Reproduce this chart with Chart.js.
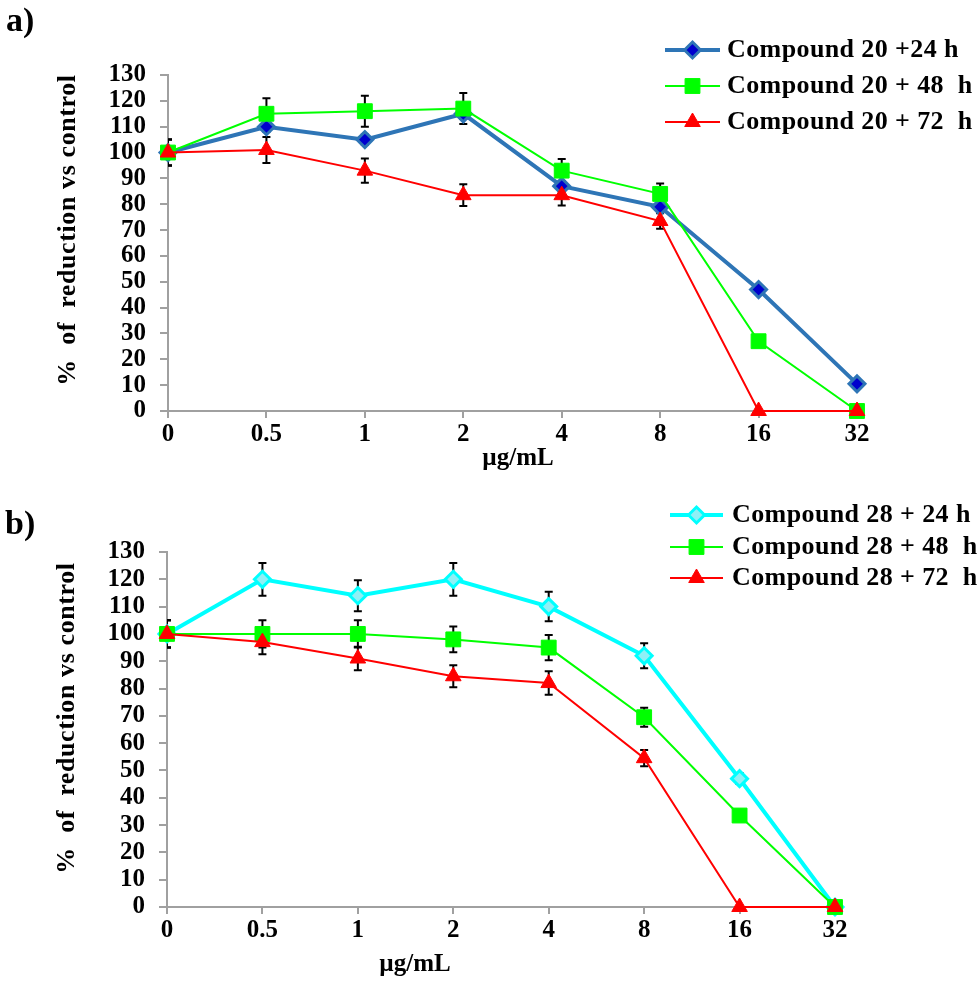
<!DOCTYPE html>
<html lang="en">
<head>
<meta charset="UTF-8">
<title>Compound 20 / 28 - % of reduction vs control</title>
<script src="https://cdn.jsdelivr.net/npm/chart.js"></script>
<style>
  body { margin: 0; background: #fff; }
  canvas { position: absolute; left: 0; }
  #chartA { top: 0; }
  #chartB { top: 480px; }
</style>
</head>
<body>
<canvas id="chartA" width="980" height="480"></canvas>
<canvas id="chartB" width="980" height="503"></canvas>
<script>
// doses on the x axis
const doses = ['0', '0.5', '1', '2', '4', '8', '16', '32'];
const xTitle = 'µg/mL';
const yTitle = '%  of  reduction vs control';

// panel a) compound 20
const c20Labels = ['Compound 20 +24 h', 'Compound 20 + 48  h', 'Compound 20 + 72  h'];
const c20_24h = [100, 110, 105, 115, 87, 79, 47, 10.5];
const c20_24hErr = [5, 2, 2, 2, 2, 2, 1, 1];
const c20_48h = [100, 115, 116, 117, 93, 84, 27, 0];
const c20_48hErr = [5, 6, 6, 6, 4.5, 4, 0, 0];
const c20_72h = [100, 101, 93, 83.5, 83.5, 73.5, 0, 0];
const c20_72hErr = [5, 5, 4.7, 4.2, 4, 3, 0, 0];

// panel b) compound 28
const c28Labels = ['Compound 28 + 24 h', 'Compound 28 + 48  h', 'Compound 28 + 72  h'];
const c28_24h = [100, 120, 114, 120, 110, 92, 47, 0];
const c28_24hErr = [5, 6, 5.7, 6, 5.4, 4.6, 2, 0];
const c28_48h = [100, 100, 100, 98, 95, 69.5, 33.5, 0];
const c28_48hErr = [5, 5, 5, 4.7, 4.6, 3.5, 0, 0];
const c28_72h = [100, 97, 91, 84.5, 82, 54.5, 0, 0];
const c28_72hErr = [5, 4.4, 4.3, 4, 4.3, 3, 0, 0];

const serif = "'Liberation Serif', 'Times New Roman', serif";
const axisGrey = '#a0a0a0';

// black error bars, drawn under the series
const errorBars = {
  id: 'errorBars',
  beforeDatasetsDraw(chart) {
    const { ctx, chartArea, scales: { y } } = chart;
    ctx.save();
    ctx.beginPath();
    ctx.rect(chartArea.left, 0, chart.width - chartArea.left, chart.height);
    ctx.clip();
    ctx.strokeStyle = '#000';
    ctx.lineWidth = 2;
    chart.data.datasets.forEach((ds, i) => {
      const meta = chart.getDatasetMeta(i);
      ds.data.forEach((v, j) => {
        const e = ds.errors[j];
        if (!e) return;
        const x = meta.data[j].x;
        const top = y.getPixelForValue(v + e);
        const bot = y.getPixelForValue(v - e);
        ctx.beginPath();
        ctx.moveTo(x, top); ctx.lineTo(x, bot);
        ctx.moveTo(x - 4, top); ctx.lineTo(x + 4, top);
        ctx.moveTo(x - 4, bot); ctx.lineTo(x + 4, bot);
        ctx.stroke();
      });
    });
    ctx.restore();
  }
};

// legend sitting on the top right, over the plot edge
function makeLegend(pos) {
  return {
    id: 'sideLegend',
    afterDraw(chart) {
      const ctx = chart.ctx;
      ctx.save();
      chart.data.datasets.forEach((ds, i) => {
        const y = pos.rows[i];
        ctx.strokeStyle = ds.borderColor;
        ctx.lineWidth = ds.borderWidth;
        ctx.beginPath();
        ctx.moveTo(pos.x1, y);
        ctx.lineTo(pos.x2, y);
        ctx.stroke();
        ctx.fillStyle = ds.pointBackgroundColor;
        ctx.strokeStyle = ds.pointBorderColor;
        ctx.lineWidth = ds.pointBorderWidth;
        Chart.helpers.drawPoint(ctx, {
          pointStyle: ds.pointStyle, radius: ds.pointRadius,
          borderWidth: ds.pointBorderWidth, rotation: 0
        }, (pos.x1 + pos.x2) / 2, y);
        ctx.fillStyle = '#000';
        ctx.font = 'bold 26px ' + serif;
        ctx.letterSpacing = '0.4px';
        ctx.textAlign = 'left';
        ctx.textBaseline = 'middle';
        ctx.fillText(ds.label, pos.textX, y);
      });
      ctx.restore();
    }
  };
}

// panel letter and axis titles
function makeTexts(t) {
  return {
    id: 'panelTexts',
    afterDraw(chart) {
      const ctx = chart.ctx;
      ctx.save();
      ctx.fillStyle = '#000';
      ctx.textBaseline = 'middle';
      ctx.font = 'bold 34px ' + serif;
      ctx.textAlign = 'left';
      ctx.fillText(t.panel, t.panelX, t.panelY);
      ctx.font = 'bold 25px ' + serif;
      ctx.textAlign = 'center';
      ctx.fillText(xTitle, t.xTitleX, t.xTitleY);
      ctx.translate(t.yTitleX, t.yTitleY);
      ctx.rotate(-Math.PI / 2);
      ctx.font = 'bold 26px ' + serif;
      ctx.letterSpacing = '0.6px';
      ctx.fillText(yTitle, 0, 0);
      ctx.restore();
    }
  };
}

function scales(leftW, bottomH) {
  const tickFont = { family: serif, size: 25, weight: 'bold' };
  return {
    x: {
      type: 'category',
      offset: false,
      afterFit: s => { s.height = bottomH; },
      border: { color: axisGrey, width: 2 },
      grid: { drawOnChartArea: false, drawTicks: true, tickLength: 7, color: axisGrey, lineWidth: 2 },
      ticks: { color: '#000', font: tickFont, padding: 2, autoSkip: false, maxRotation: 0 }
    },
    y: {
      min: 0,
      max: 130,
      afterFit: s => { s.width = leftW; },
      border: { color: axisGrey, width: 2 },
      grid: { drawOnChartArea: false, drawTicks: true, tickLength: 8, color: axisGrey, lineWidth: 2 },
      ticks: { stepSize: 10, autoSkip: false, padding: 14, color: '#000', font: tickFont }
    }
  };
}

function series(label, data, errors, style) {
  return Object.assign({
    label: label,
    data: data,
    errors: errors,
    tension: 0,
    clip: false,
    fill: false
  }, style);
}

const blueStyle = {
  borderColor: '#2e75b6', borderWidth: 4, pointStyle: 'rectRot', pointRadius: 8,
  pointBackgroundColor: '#0000cd', pointBorderColor: '#2e75b6', pointBorderWidth: 3, order: 3
};
const cyanStyle = {
  borderColor: '#00ffff', borderWidth: 4, pointStyle: 'rectRot', pointRadius: 8,
  pointBackgroundColor: '#8ff0f6', pointBorderColor: '#00ffff', pointBorderWidth: 3, order: 3
};
const greenStyle = {
  borderColor: '#00ff00', borderWidth: 2, pointStyle: 'rect', pointRadius: 10.5,
  pointBackgroundColor: '#00ff00', pointBorderColor: '#00ff00', pointBorderWidth: 1, order: 2
};
const redStyle = {
  borderColor: '#ff0000', borderWidth: 2, pointStyle: 'triangle', pointRadius: 9,
  pointBackgroundColor: '#ff0000', pointBorderColor: '#ff0000', pointBorderWidth: 1, order: 1
};

function baseOptions(padding, leftW, bottomH) {
  return {
    responsive: false,
    animation: false,
    layout: { padding: padding },
    plugins: { legend: { display: false }, tooltip: { enabled: false } },
    scales: scales(leftW, bottomH)
  };
}

new Chart(document.getElementById('chartA'), {
  type: 'line',
  data: {
    labels: doses,
    datasets: [
      series(c20Labels[0], c20_24h, c20_24hErr, blueStyle),
      series(c20Labels[1], c20_48h, c20_48hErr, greenStyle),
      series(c20Labels[2], c20_72h, c20_72hErr, redStyle)
    ]
  },
  options: baseOptions({ top: 75, right: 123, left: 0, bottom: 0 }, 168, 69),
  plugins: [
    errorBars,
    makeLegend({ x1: 665, x2: 720, textX: 727, rows: [50, 86, 122] }),
    makeTexts({ panel: 'a)', panelX: 6, panelY: 22, xTitleX: 518, xTitleY: 459, yTitleX: 68, yTitleY: 230 })
  ]
});

new Chart(document.getElementById('chartB'), {
  type: 'line',
  data: {
    labels: doses,
    datasets: [
      series(c28Labels[0], c28_24h, c28_24hErr, cyanStyle),
      series(c28Labels[1], c28_48h, c28_48hErr, greenStyle),
      series(c28Labels[2], c28_72h, c28_72hErr, redStyle)
    ]
  },
  options: baseOptions({ top: 72, right: 145, left: 0, bottom: 0 }, 167, 76),
  plugins: [
    errorBars,
    makeLegend({ x1: 670, x2: 723, textX: 732, rows: [35, 67, 98] }),
    makeTexts({ panel: 'b)', panelX: 5, panelY: 45, xTitleX: 415, xTitleY: 485, yTitleX: 67, yTitleY: 238 })
  ]
});
</script>
</body>
</html>
